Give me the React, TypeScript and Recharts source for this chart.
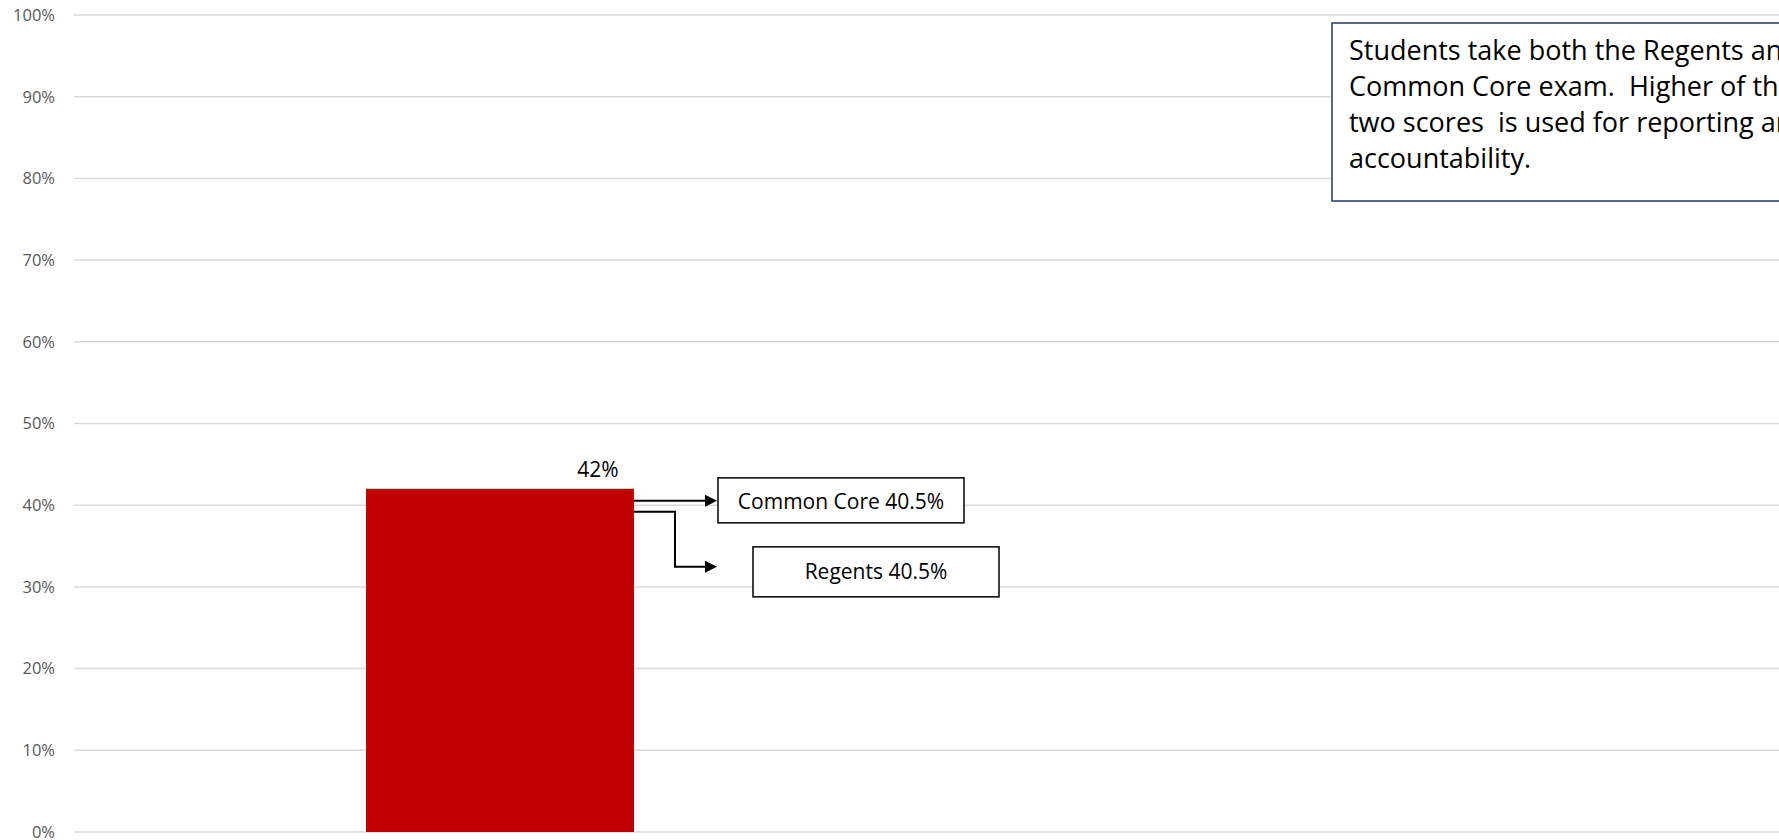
import { BarChart, Bar, XAxis, YAxis, CartesianGrid, LabelList } from "recharts"

// one bar shown, second slot left empty (as in the source chart)
const categories = ["Algebra I", ""]
const passRate = [0.42, null]
const commonCore = 0.405
const regents = 0.405
const yTicks = [0, 0.1, 0.2, 0.3, 0.4, 0.5, 0.6, 0.7, 0.8, 0.9, 1]

const noteLines = [
  "Students take both the Regents and",
  "Common Core exam.  Higher of the",
  "two scores  is used for reporting and",
  "accountability.",
]

const data = categories.map((name, i) => ({ name, rate: passRate[i] }))

const pct = (v: number) => `${Math.round(v * 100)}%`
const pct1 = (v: number) => `${(v * 100).toFixed(1)}%`

const FONT = "'Open Sans', sans-serif"

// value label + the two callouts that hang off the bar's right edge
function BarCallouts(props: any) {
  const { x, y, width, value } = props
  if (value == null) return null
  const r = x + width
  const t = y
  return (
    <g fontFamily={FONT}>
      <text x={r - 36} y={t - 12} textAnchor="middle" fontSize={21} fill="#000">
        {pct(value)}
      </text>

      {/* arrow to Common Core */}
      <line x1={r} y1={t + 12} x2={r + 72} y2={t + 12} stroke="#000" strokeWidth={2} />
      <polygon points={`${r + 71},${t + 6} ${r + 83},${t + 12} ${r + 71},${t + 18}`} fill="#000" />
      <rect x={r + 84} y={t - 11} width={246} height={45} fill="#fff" stroke="#000" strokeWidth={1.5} />
      <text x={r + 207} y={t + 20} textAnchor="middle" fontSize={21} fill="#000">
        {`Common Core ${pct1(commonCore)}`}
      </text>

      {/* elbow arrow to Regents */}
      <polyline
        points={`${r},${t + 23} ${r + 41},${t + 23} ${r + 41},${t + 78} ${r + 72},${t + 78}`}
        fill="none"
        stroke="#000"
        strokeWidth={2}
      />
      <polygon points={`${r + 71},${t + 72} ${r + 83},${t + 78} ${r + 71},${t + 84}`} fill="#000" />
      <rect x={r + 119} y={t + 58} width={246} height={50} fill="#fff" stroke="#000" strokeWidth={1.5} />
      <text x={r + 242} y={t + 90} textAnchor="middle" fontSize={21} fill="#000">
        {`Regents ${pct1(regents)}`}
      </text>
    </g>
  )
}

export default function App() {
  return (
    <div style={{ position: "absolute", left: 0, top: 0, width: 1779, height: 840, overflow: "hidden", background: "#fff" }}>
      <BarChart width={1779} height={840} data={data} margin={{ top: 15, right: 0, bottom: 8, left: 0 }}>
        <CartesianGrid vertical={false} stroke="#d9d9d9" strokeWidth={1.5} />
        <XAxis dataKey="name" hide />
        <YAxis
          domain={[0, 1]}
          ticks={yTicks}
          interval={0}
          tickFormatter={pct}
          width={74}
          axisLine={false}
          tickLine={false}
          tickSize={0}
          tickMargin={19}
          tick={{ fill: "#595959", fontSize: 16.5, fontFamily: FONT }}
        />
        <Bar dataKey="rate" fill="#C00000" barSize={268} isAnimationActive={false}>
          <LabelList dataKey="rate" content={BarCallouts} />
        </Bar>
      </BarChart>

      <svg width={1779} height={840} style={{ position: "absolute", left: 0, top: 0, pointerEvents: "none" }}>
        <rect x={1332} y={23} width={600} height={178} fill="#fff" stroke="#203864" strokeWidth={1.5} />
        {noteLines.map((line, i) => (
          <text
            key={i}
            x={1349}
            y={60 + i * 36}
            fontFamily={FONT}
            fontSize={27}
            fill="#000"
            style={{ whiteSpace: "pre" }}
          >
            {line}
          </text>
        ))}
      </svg>
    </div>
  )
}
